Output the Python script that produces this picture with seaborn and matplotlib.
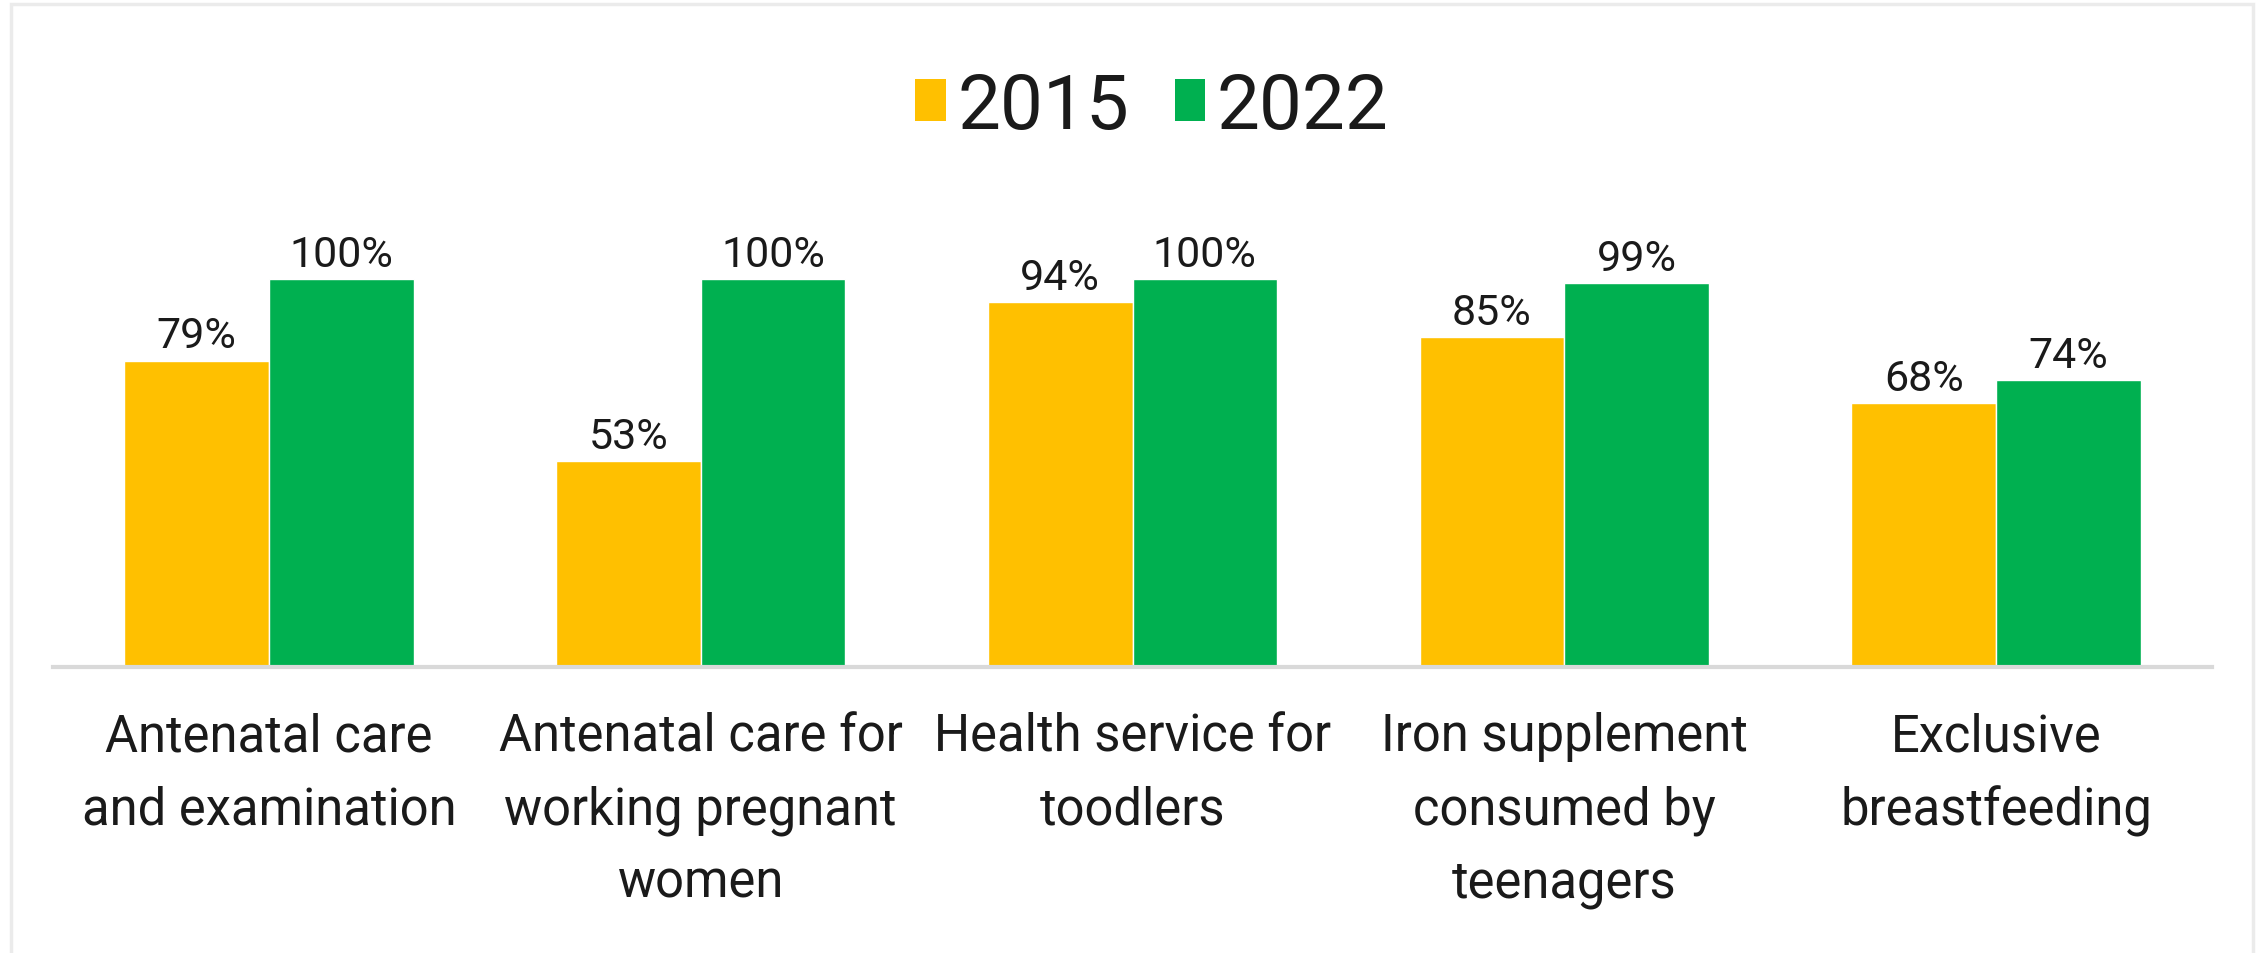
import matplotlib
matplotlib.use("Agg")
import matplotlib.pyplot as plt
import seaborn as sns
import pandas as pd
from matplotlib.patches import Rectangle, Patch

categories = [
    "Antenatal care\nand examination",
    "Antenatal care for\nworking pregnant\nwomen",
    "Health service for\ntoodlers",
    "Iron supplement\nconsumed by\nteenagers",
    "Exclusive\nbreastfeeding",
]
years = ["2015", "2022"]
values_2015 = [79, 53, 94, 85, 68]
values_2022 = [100, 100, 100, 99, 74]
colors = ["#FFC000", "#00B050"]

df = pd.DataFrame({
    "category": categories * 2,
    "year": [years[0]] * len(categories) + [years[1]] * len(categories),
    "value": values_2015 + values_2022,
})

sns.set_theme(style="white")
plt.rcParams["font.family"] = ["Roboto", "DejaVu Sans"]
text_color = "#1a1a1a"

fig = plt.figure(figsize=(22.59, 9.54), dpi=100)
ax = fig.add_axes([53 / 2259, 1 - 668 / 954, (2212 - 53) / 2259, 0.4880])

sns.barplot(data=df, x="category", y="value", hue="year", order=categories,
            hue_order=years, palette=colors, width=0.67, gap=0,
            saturation=1, ax=ax, legend=False)

ax.set_ylim(0, 120)
ax.set_xlim(-0.5, len(categories) - 0.5)
ax.set_xlabel("")
ax.set_ylabel("")
ax.set_yticks([])
for s in ["top", "left", "right"]:
    ax.spines[s].set_visible(False)
ax.spines["bottom"].set_color("#D9D9D9")
ax.spines["bottom"].set_linewidth(3)
ax.tick_params(axis="x", length=0, pad=32, labelsize=36.5, labelcolor=text_color)
for lbl in ax.get_xticklabels():
    lbl.set_linespacing(1.58)
    lbl.set_horizontalalignment("center")

for cont in ax.containers:
    ax.bar_label(cont, labels=[f"{int(v)}%" for v in cont.datavalues],
                 padding=3, fontsize=31, color=text_color)

handles = [Patch(facecolor=c, edgecolor="none") for c in colors]
leg = fig.legend(handles, years, loc="center", bbox_to_anchor=(1152 / 2259, 1 - 108 / 954),
                 ncol=2, frameon=False, fontsize=55, handlelength=0.4, handleheight=0.47,
                 handletextpad=0.15, columnspacing=0.6, labelcolor=text_color)

fig.patches.append(Rectangle((11 / 2259, -0.05), (2253 - 11) / 2259, 1.05 - 5 / 954,
                             transform=fig.transFigure, fill=False, edgecolor="#EBEBEB",
                             linewidth=2.5, clip_on=False))

fig.savefig("out.png", dpi=100, facecolor="white")
